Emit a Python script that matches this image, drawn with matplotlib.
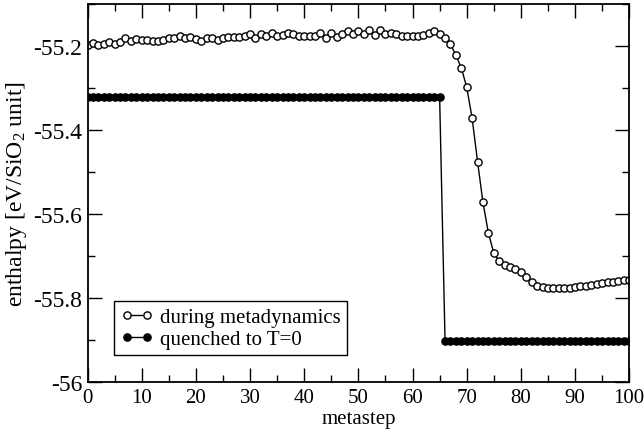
import matplotlib
matplotlib.use("Agg")
import matplotlib.pyplot as plt
from matplotlib.ticker import MultipleLocator, FuncFormatter

plt.rcParams.update({
    "font.family": "Liberation Serif",
    "mathtext.fontset": "custom",
    "mathtext.rm": "Liberation Serif",
    "mathtext.it": "Liberation Serif:italic",
    "axes.unicode_minus": False,
    "font.size": 15,
})

# metastep index 0..100
steps = list(range(101))

# enthalpy during metadynamics (open circles)
during = [
    -55.197, -55.193, -55.197, -55.196, -55.190, -55.196, -55.190, -55.180, -55.188, -55.184,
    -55.185, -55.186, -55.187, -55.188, -55.186, -55.182, -55.180, -55.175, -55.180, -55.179,
    -55.183, -55.187, -55.181, -55.182, -55.186, -55.180, -55.178, -55.178, -55.178, -55.175,
    -55.172, -55.180, -55.172, -55.176, -55.168, -55.177, -55.174, -55.170, -55.172, -55.176,
    -55.177, -55.177, -55.175, -55.170, -55.182, -55.168, -55.178, -55.172, -55.165, -55.172,
    -55.165, -55.172, -55.163, -55.174, -55.163, -55.172, -55.170, -55.172, -55.175, -55.177,
    -55.175, -55.175, -55.173, -55.168, -55.165, -55.172, -55.180, -55.196, -55.222, -55.252,
    -55.298, -55.372, -55.475, -55.572, -55.645, -55.693, -55.713, -55.721, -55.726, -55.732,
    -55.739, -55.750, -55.762, -55.771, -55.773, -55.775, -55.775, -55.776, -55.776, -55.775,
    -55.774, -55.772, -55.771, -55.769, -55.767, -55.765, -55.763, -55.761, -55.760, -55.758,
    -55.757,
]

# quenched to T=0 (filled circles)
quenched = [-55.322] * 66 + [-55.902] * 35

fig = plt.figure(figsize=(6.44, 4.35), dpi=100)
ax = fig.add_axes([0.136, 0.1195, 0.841, 0.869])

ax.plot(steps, during, color="black", lw=1.0, marker="o", ms=5.2,
        mfc="white", mec="black", mew=1.0, label="during metadynamics")
ax.plot(steps, quenched, color="black", lw=1.0, marker="o", ms=5.2,
        mfc="black", mec="black", mew=1.0, label="quenched to T=0")

ax.set_xlim(0, 100)
ax.set_ylim(-56, -55.1)
ax.xaxis.set_major_locator(MultipleLocator(10))
ax.xaxis.set_minor_locator(MultipleLocator(5))
ax.yaxis.set_major_locator(MultipleLocator(0.2))
ax.yaxis.set_minor_locator(MultipleLocator(0.1))
ax.yaxis.set_major_formatter(FuncFormatter(lambda v, p: f"{v:g}"))
ax.tick_params(which="both", direction="in", top=True, right=True, width=1.0)
ax.tick_params(which="major", length=10, pad=4)
ax.tick_params(which="minor", length=5)
ax.tick_params(axis="x", labelsize=15)
ax.tick_params(axis="y", labelsize=17)
for s in ax.spines.values():
    s.set_linewidth(1.3)

ax.set_xlabel("metastep", fontsize=15, labelpad=2)
ax.set_ylabel("enthalpy [eV/SiO$_2$ unit]", fontsize=17, labelpad=3)

leg = ax.legend(loc="lower left", bbox_to_anchor=(0.049, 0.071), borderaxespad=0,
                fancybox=False, framealpha=1, edgecolor="black", numpoints=2,
                handlelength=1.6, handletextpad=0.3, borderpad=0.3,
                labelspacing=0.1, fontsize=15)
leg.get_frame().set_linewidth(1.0)

fig.savefig("out.png", dpi=100)
